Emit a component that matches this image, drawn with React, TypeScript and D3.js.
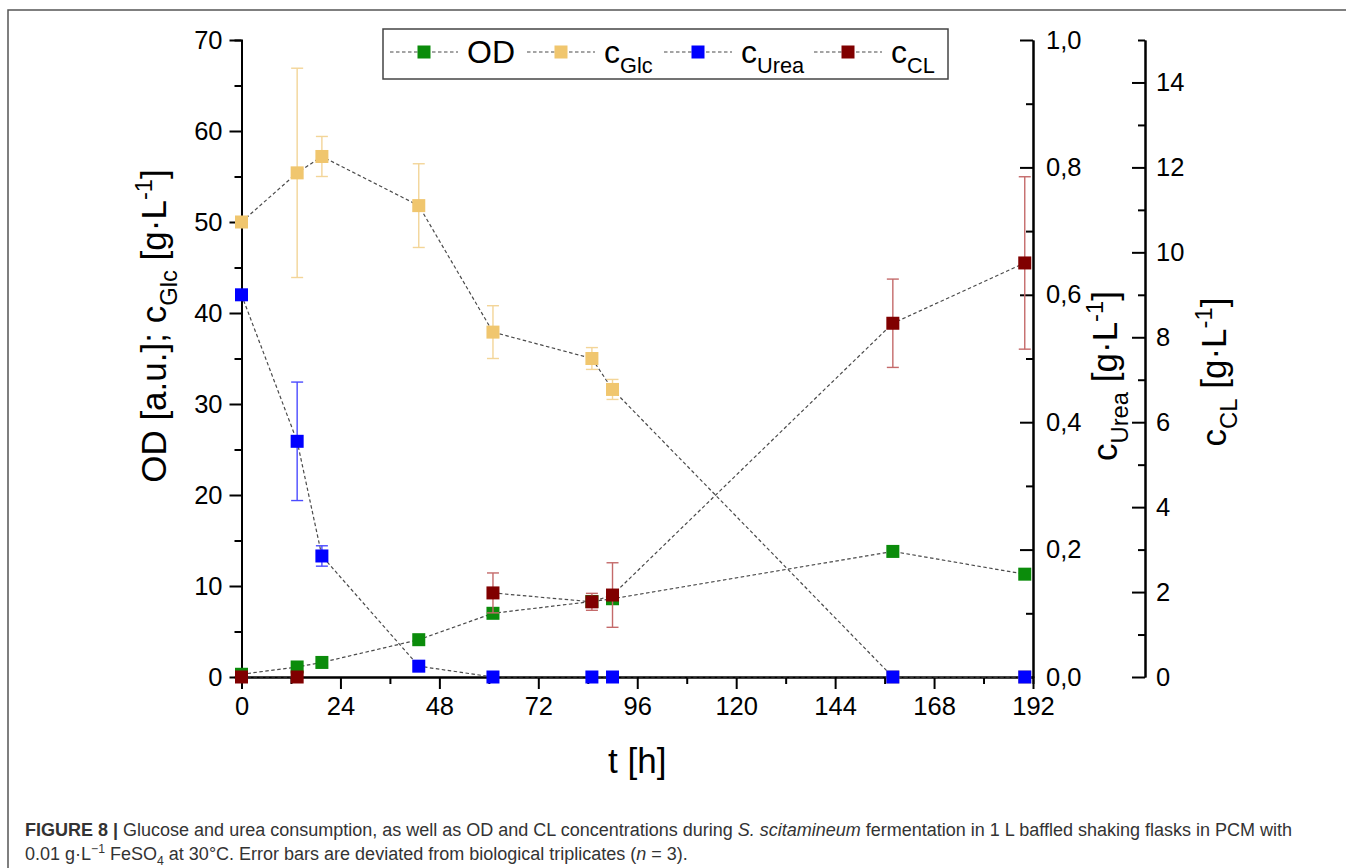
import React, { useEffect, useRef } from "react";
import * as d3 from "d3";

// time points [h]
const timeH = [0, 13.5, 19.5, 43, 61, 85, 90, 158, 190];

// OD [a.u.] (left axis)
const odValues = [0.3, 1.1, 1.6, 4.1, 7.0, 8.3, 8.6, 13.8, 11.3];

// glucose [g/L] (left axis)
const glcValues = [50.0, 55.4, 57.2, 51.8, 37.9, 35.0, 31.6, 0, 0];
const glcErrors = [0, 11.5, 2.2, 4.6, 2.9, 1.2, 1.1, 0, 0];

// urea [g/L] (first right axis)
const ureaValues = [0.6, 0.37, 0.19, 0.017, 0, 0, 0, 0, 0];
const ureaErrors = [0, 0.093, 0.016, 0, 0, 0, 0, 0, 0];

// cellobiose lipids [g/L] (second right axis), missing values break the line
const clValues: (number | null)[] = [0, 0, null, null, 1.98, 1.77, 1.93, 8.33, 9.75];
const clErrors: (number | null)[] = [0, 0, null, null, 0.47, 0.2, 0.76, 1.04, 2.03];

const xTicks = [0, 24, 48, 72, 96, 120, 144, 168, 192];
const leftTicks = [0, 10, 20, 30, 40, 50, 60, 70];
const ureaTicks = [0, 0.2, 0.4, 0.6, 0.8, 1.0];
const clTicks = [0, 2, 4, 6, 8, 10, 12, 14];

type Part = { t: string; sub?: boolean; sup?: boolean; b?: boolean; i?: boolean };

const FONT = "'Liberation Sans', Arial, Helvetica, sans-serif";

function rich(sel: d3.Selection<SVGTextElement, unknown, null, undefined>, parts: Part[], fs: number) {
  let shift = 0;
  parts.forEach((p) => {
    const target = p.sub ? fs * 0.3 : p.sup ? -fs * 0.4 : 0;
    const ts = sel.append("tspan").attr("dy", target - shift).text(p.t);
    shift = target;
    if (p.sub || p.sup) ts.attr("font-size", fs * 0.68);
    if (p.b) ts.attr("font-weight", "bold");
    if (p.i) ts.attr("font-style", "italic");
  });
}

const App: React.FC = () => {
  const svgRef = useRef<SVGSVGElement>(null);

  useEffect(() => {
    if (!svgRef.current) return;
    const svg = d3.select(svgRef.current);
    svg.selectAll("*").remove();

    const left = 241.5;
    const right = 1033;
    const clAxisX = 1145;
    const top = 40;
    const bottom = 677;

    const x = d3.scaleLinear().domain([0, 192]).range([left, right]);
    const yLeft = d3.scaleLinear().domain([0, 70]).range([bottom, top]);
    const yUrea = d3.scaleLinear().domain([0, 1]).range([bottom, top]);
    const yCL = d3.scaleLinear().domain([0, 15]).range([bottom, top]);

    // figure frame
    svg
      .append("path")
      .attr("d", `M8,${868} L8,10 L1346,10`)
      .attr("fill", "none")
      .attr("stroke", "#555")
      .attr("stroke-width", 1.5);

    const styleAxis = (g: d3.Selection<SVGGElement, unknown, null, undefined>) => {
      g.attr("font-family", FONT).attr("font-size", 25.5).attr("color", "#000");
      g.selectAll("path, line").attr("stroke-width", 2);
    };

    // x axis
    svg
      .append("g")
      .attr("transform", `translate(0,${bottom})`)
      .call(d3.axisBottom(x).tickValues(d3.range(12, 192, 24)).tickSize(7).tickFormat(() => ""))
      .call(styleAxis);
    svg
      .append("g")
      .attr("transform", `translate(0,${bottom})`)
      .call(d3.axisBottom(x).tickValues(xTicks).tickSize(12).tickSizeOuter(0).tickPadding(8).tickFormat(d3.format("d")))
      .call(styleAxis);

    // left axis
    svg
      .append("g")
      .attr("transform", `translate(${left},0)`)
      .call(d3.axisLeft(yLeft).tickValues(d3.range(5, 70, 10)).tickSize(7).tickFormat(() => ""))
      .call(styleAxis);
    svg
      .append("g")
      .attr("transform", `translate(${left},0)`)
      .call(d3.axisLeft(yLeft).tickValues(leftTicks).tickSize(12).tickSizeOuter(0).tickPadding(7).tickFormat(d3.format("d")))
      .call(styleAxis);

    // urea axis (ticks inward)
    svg
      .append("g")
      .attr("transform", `translate(${right},0)`)
      .call(d3.axisRight(yUrea).tickValues([0.1, 0.3, 0.5, 0.7, 0.9]).tickSizeInner(-7).tickSizeOuter(0).tickFormat(() => ""))
      .call(styleAxis);
    svg
      .append("g")
      .attr("transform", `translate(${right},0)`)
      .call(
        d3
          .axisRight(yUrea)
          .tickValues(ureaTicks)
          .tickSizeInner(-13)
          .tickSizeOuter(0)
          .tickPadding(13)
          .tickFormat((d) => (+d).toFixed(1).replace(".", ","))
      )
      .call(styleAxis);

    // CL axis (ticks inward)
    svg
      .append("g")
      .attr("transform", `translate(${clAxisX},0)`)
      .call(d3.axisRight(yCL).tickValues(d3.range(1, 16, 2)).tickSizeInner(-7).tickSizeOuter(0).tickFormat(() => ""))
      .call(styleAxis);
    svg
      .append("g")
      .attr("transform", `translate(${clAxisX},0)`)
      .call(d3.axisRight(yCL).tickValues(clTicks).tickSizeInner(-13).tickSizeOuter(0).tickPadding(11).tickFormat(d3.format("d")))
      .call(styleAxis);

    // axis titles
    const titleFs = 35;
    svg
      .append("text")
      .attr("x", (left + right) / 2)
      .attr("y", 773)
      .attr("text-anchor", "middle")
      .attr("font-family", FONT)
      .attr("font-size", titleFs)
      .text("t [h]");

    const leftTitle = svg
      .append("text")
      .attr("transform", `translate(166,326) rotate(-90)`)
      .attr("text-anchor", "middle")
      .attr("font-family", FONT)
      .attr("font-size", titleFs);
    rich(leftTitle, [{ t: "OD [a.u.]; c" }, { t: "Glc", sub: true }, { t: " [g·L" }, { t: "-1", sup: true }, { t: "]" }], titleFs);

    const ureaTitle = svg
      .append("text")
      .attr("transform", `translate(1117,376) rotate(-90)`)
      .attr("text-anchor", "middle")
      .attr("font-family", FONT)
      .attr("font-size", titleFs);
    rich(ureaTitle, [{ t: "c" }, { t: "Urea", sub: true }, { t: " [g·L" }, { t: "-1", sup: true }, { t: "]" }], titleFs);

    const clTitle = svg
      .append("text")
      .attr("transform", `translate(1226,372) rotate(-90)`)
      .attr("text-anchor", "middle")
      .attr("font-family", FONT)
      .attr("font-size", titleFs);
    rich(clTitle, [{ t: "c" }, { t: "CL", sub: true }, { t: " [g·L" }, { t: "-1", sup: true }, { t: "]" }], titleFs);

    // series
    const series = [
      { vals: odValues as (number | null)[], errs: null as (number | null)[] | null, y: yLeft, color: "#0b8c0b", errColor: "#0b8c0b" },
      { vals: glcValues as (number | null)[], errs: glcErrors as (number | null)[], y: yLeft, color: "#f0c66e", errColor: "#f3d598" },
      { vals: ureaValues as (number | null)[], errs: ureaErrors as (number | null)[], y: yUrea, color: "#0000ff", errColor: "#4b4bff" },
      { vals: clValues, errs: clErrors, y: yCL, color: "#800000", errColor: "#c46a6a" },
    ];

    const sq = 13;
    const cap = 6;

    series.forEach((s) => {
      const pts = timeH.map((t, i) => ({ t, v: s.vals[i], e: s.errs ? s.errs[i] : null }));
      const line = d3
        .line<{ t: number; v: number | null }>()
        .defined((d) => d.v !== null)
        .x((d) => x(d.t))
        .y((d) => s.y(d.v as number));

      const g = svg.append("g");
      g.append("path")
        .attr("d", line(pts) || "")
        .attr("fill", "none")
        .attr("stroke", "#4a4a4a")
        .attr("stroke-width", 1.2)
        .attr("stroke-dasharray", "3.5,2.5");

      pts
        .filter((d) => d.v !== null && d.e !== null && (d.e as number) > 0)
        .forEach((d) => {
          const cx = x(d.t);
          const y1 = s.y((d.v as number) + (d.e as number));
          const y2 = s.y((d.v as number) - (d.e as number));
          const eg = g.append("g").attr("stroke", s.errColor).attr("stroke-width", 1.4);
          eg.append("line").attr("x1", cx).attr("x2", cx).attr("y1", y1).attr("y2", y2);
          eg.append("line").attr("x1", cx - cap).attr("x2", cx + cap).attr("y1", y1).attr("y2", y1);
          eg.append("line").attr("x1", cx - cap).attr("x2", cx + cap).attr("y1", y2).attr("y2", y2);
        });

      g.selectAll("rect.m")
        .data(pts.filter((d) => d.v !== null))
        .enter()
        .append("rect")
        .attr("x", (d) => x(d.t) - sq / 2)
        .attr("y", (d) => s.y(d.v as number) - sq / 2)
        .attr("width", sq)
        .attr("height", sq)
        .attr("fill", s.color);
    });

    // legend
    const legend = svg.append("g");
    legend
      .append("rect")
      .attr("x", 383)
      .attr("y", 29)
      .attr("width", 565)
      .attr("height", 50)
      .attr("fill", "#fff")
      .attr("stroke", "#444")
      .attr("stroke-width", 1.5);

    const legendItems: { x0: number; color: string; parts: Part[] }[] = [
      { x0: 390, color: series[0].color, parts: [{ t: "OD" }] },
      { x0: 527, color: series[1].color, parts: [{ t: "c" }, { t: "Glc", sub: true }] },
      { x0: 664, color: series[2].color, parts: [{ t: "c" }, { t: "Urea", sub: true }] },
      { x0: 814, color: series[3].color, parts: [{ t: "c" }, { t: "CL", sub: true }] },
    ];
    const legFs = 32;
    legendItems.forEach((it) => {
      legend
        .append("line")
        .attr("x1", it.x0)
        .attr("x2", it.x0 + 68)
        .attr("y1", 52)
        .attr("y2", 52)
        .attr("stroke", "#4a4a4a")
        .attr("stroke-width", 1.2)
        .attr("stroke-dasharray", "3.5,2.5");
      legend
        .append("rect")
        .attr("x", it.x0 + 34 - sq / 2)
        .attr("y", 52 - sq / 2)
        .attr("width", sq)
        .attr("height", sq)
        .attr("fill", it.color);
      const t = legend
        .append("text")
        .attr("x", it.x0 + 77)
        .attr("y", 63)
        .attr("font-family", FONT)
        .attr("font-size", legFs);
      rich(t, it.parts, legFs);
    });

    // caption
    const capFs = 18;
    const c1 = svg
      .append("text")
      .attr("x", 25)
      .attr("y", 836)
      .attr("font-family", FONT)
      .attr("font-size", capFs)
      .attr("fill", "#333");
    rich(
      c1,
      [
        { t: "FIGURE 8 | ", b: true },
        { t: "Glucose and urea consumption, as well as OD and CL concentrations during " },
        { t: "S. scitamineum", i: true },
        { t: " fermentation in 1 L baffled shaking flasks in PCM with" },
      ],
      capFs
    );
    const c2 = svg
      .append("text")
      .attr("x", 25)
      .attr("y", 860)
      .attr("font-family", FONT)
      .attr("font-size", capFs)
      .attr("fill", "#333");
    rich(
      c2,
      [
        { t: "0.01 g·L" },
        { t: "−1", sup: true },
        { t: " FeSO" },
        { t: "4", sub: true },
        { t: " at 30°C. Error bars are deviated from biological triplicates (" },
        { t: "n", i: true },
        { t: " = 3)." },
      ],
      capFs
    );
  }, []);

  return (
    <div style={{ position: "absolute", left: 0, top: 0, width: 1346, height: 868, background: "#fff" }}>
      <svg ref={svgRef} width={1346} height={868} style={{ display: "block" }} />
    </div>
  );
};

export default App;
